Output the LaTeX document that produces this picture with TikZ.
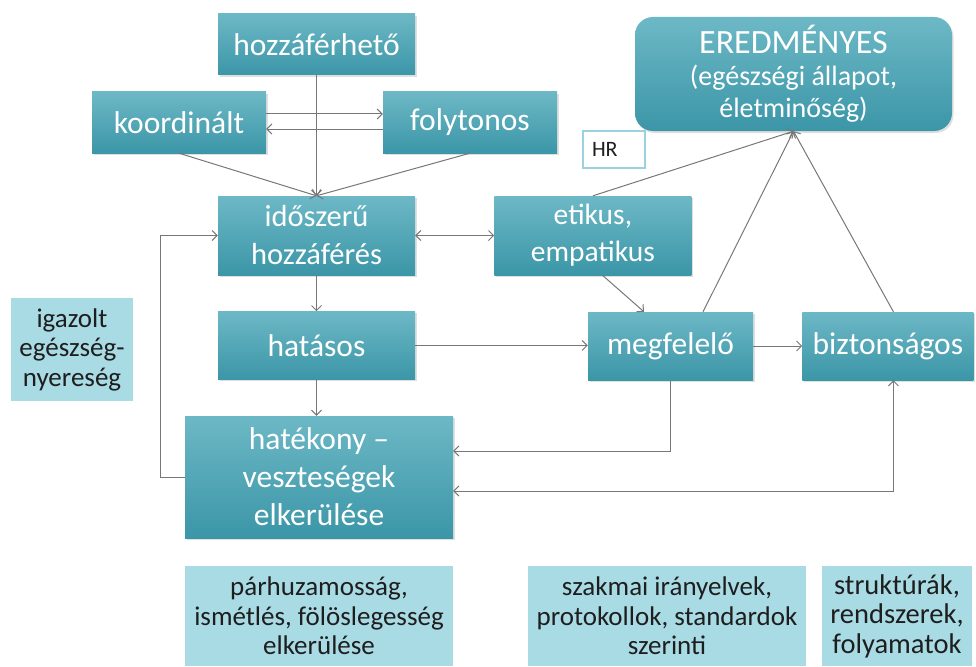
\documentclass[tikz,border=0pt]{standalone}
\usepackage{fontspec}
\setmainfont{Carlito}
\usepackage{xcolor}
\definecolor{tealtop}{HTML}{6DB8C6}
\definecolor{tealbot}{HTML}{3B96A7}
\definecolor{lite}{HTML}{A9DBE5}
\definecolor{ink}{HTML}{1E1E1E}
\definecolor{wire}{HTML}{777777}
\definecolor{hrline}{HTML}{9AD3DF}
\usetikzlibrary{arrows.meta,positioning,shadows}
\tikzset{
  >={Straight Barb[length=5pt,width=10pt]},
  box/.style={rectangle,inner sep=0pt,align=center,text=white,top color=tealtop,bottom color=tealbot,
    drop shadow={shadow xshift=1.5pt,shadow yshift=-2pt,opacity=0.25},font=\fontsize{31.5}{38}\selectfont},
  lbox/.style={rectangle,inner sep=0pt,align=center,fill=lite,text=ink,font=\fontsize{27}{29.5}\selectfont},
  arr/.style={->,draw=wire,line width=1pt},
  darr/.style={<->,draw=wire,line width=1pt},
}
\begin{document}
\begin{tikzpicture}[x=1pt,y=-1pt,node distance=36pt]
\useasboundingbox (0,0) rectangle (976,666);
\node[box,minimum width=197pt,minimum height=61pt] (hozz) at (316.5,44.5) {hozzáférhető};
\node[box,minimum width=174pt,minimum height=61pt] (koord) at (179,122.5) {koordinált};
\node[box,minimum width=174pt,minimum height=61pt] (foly) at (470,122.5) {folytonos};
\node[box,minimum width=197pt,minimum height=79pt,font=\fontsize{30.5}{38}\selectfont] (ido) at (316.5,235.5) {időszerű\\hozzáférés};
\node[box,minimum width=197pt,minimum height=79pt,right=79pt of ido,font=\fontsize{29.5}{37}\selectfont] (etik) {etikus,\\empatikus};
\node[box,minimum width=197pt,minimum height=68pt,below=of ido] (hatas) {hatásos};
\node[box,minimum width=268pt,minimum height=122pt] (hatek) at (319,477) {hatékony –\\veszteségek\\elkerülése};
\node[box,minimum width=165pt,minimum height=68pt] (megf) at (670.5,346) {megfelelő};
\node[box,minimum width=171pt,minimum height=68pt,right=49pt of megf] (bizt) {biztonságos};
\node[box,rounded corners=18pt,minimum width=317pt,minimum height=114pt,font=\fontsize{28}{32}\selectfont]
  (ered) at (793.5,74) {{\fontsize{34}{36}\selectfont EREDMÉNYES}\\(egészségi állapot,\\életminőség)};
\node[draw=hrline,line width=1.5pt,fill=white,minimum height=37pt,inner xsep=9pt,text width=44pt,
  align=left,text=ink,font=\fontsize{22}{24}\selectfont] (hr) at (614,149.5) {HR};
\node[lbox,minimum width=122pt,minimum height=103pt] (igaz) at (72,349.5) {igazolt\\egészség-\\nyereség};
\node[lbox,minimum width=268pt,minimum height=100pt] (parh) at (319,616) {párhuzamosság,\\ismétlés, fölöslegesség\\elkerülése};
\node[lbox,minimum width=278pt,minimum height=100pt] (szak) at (667,616) {szakmai irányelvek,\\protokollok, standardok\\szerinti};
\node[lbox,minimum width=150pt,minimum height=100pt,font=\fontsize{28.5}{29.5}\selectfont] (strukt) at (897,616) {struktúrák,\\rendszerek,\\folyamatok};
\draw[arr] (hozz) -- (ido);
\draw[arr] (koord.south) -- (ido.north);
\draw[arr] (foly.south) -- (ido.north);
\draw[arr] ([yshift=8.5pt]koord.east) -- ([yshift=8.5pt]foly.west);
\draw[arr] ([yshift=-6.5pt]foly.west) -- ([yshift=-6.5pt]koord.east);
\draw[darr] (ido) -- (etik);
\draw[arr] (ido) -- (hatas);
\draw[arr] (hatas) -- (hatas |- hatek.north);
\draw[arr] (hatas.east) -- (hatas.east -| megf.west);
\draw[arr] (megf) -- (bizt);
\draw[arr] ([xshift=9.5pt]etik.south) -- ([xshift=-26.5pt]megf.north);
\draw[arr] (etik.north) -- (ered.south);
\draw[arr] ([xshift=32.5pt]megf.north) -- (ered.south);
\draw[arr] ([xshift=5.5pt]bizt.north) -- (ered.south);
\draw[arr] (megf.south) |- ([yshift=26pt]hatek.east);
\draw[darr] ([yshift=-14pt]hatek.east) -| ([xshift=5.5pt]bizt.south);
\draw[arr] (hatek.west) -- ++(-24,0) |- (ido.west);
\end{tikzpicture}
\end{document}
